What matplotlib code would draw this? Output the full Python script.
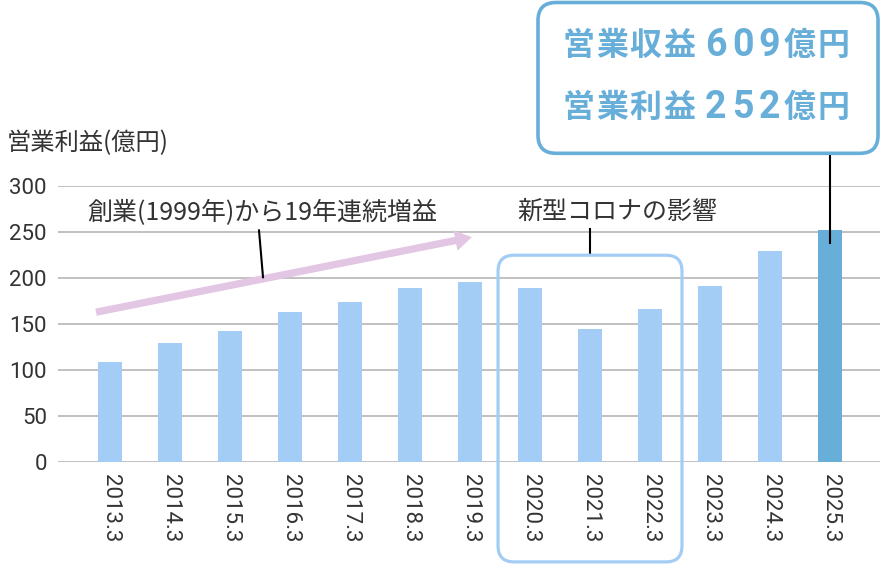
import matplotlib.pyplot as plt
from matplotlib.patches import FancyBboxPatch
from matplotlib.transforms import IdentityTransform

# ====== DATA ======
years = ["2013.3", "2014.3", "2015.3", "2016.3", "2017.3", "2018.3", "2019.3",
         "2020.3", "2021.3", "2022.3", "2023.3", "2024.3", "2025.3"]
profit = [109, 130, 143, 163, 174, 189, 196, 189, 145, 167, 191, 230, 252]
highlight = "2025.3"
yticks = [0, 50, 100, 150, 200, 250, 300]
ylabel = "営業利益(億円)"
growth_note = "創業(1999年)から19年連続増益"
covid_note = "新型コロナの影響"
covid_years = ["2020.3", "2022.3"]
callout_lines = ["営業収益609億円", "営業利益252億円"]
# ==================

LIGHT = "#a3cdf5"
DARK = "#67aed9"
TEXT = "#333333"
GRID = "#b0b0b0"
PINK = "#e2c6e4"
JP = "Noto Sans CJK JP"

W, H = 880, 564
fig = plt.figure(figsize=(W / 100, H / 100), dpi=100)
ax = fig.add_axes([58 / W, 1 - 462 / H, 1 - 58 / W, (462 - 186.3) / H])

x = list(range(len(years)))
colors = [DARK if y == highlight else LIGHT for y in years]
ax.bar(x, profit, width=0.4, color=colors, zorder=2)

ax.set_xlim(-0.867, 12.833)
ax.set_ylim(0, 300)
ax.set_yticks(yticks)
ax.set_xticks(x)
ax.set_xticklabels(years, rotation=-90, family="Roboto", fontsize=16, color=TEXT)
for lab in ax.get_yticklabels():
    lab.set_family("Roboto")
    lab.set_fontsize(16)
    lab.set_color(TEXT)
ax.tick_params(length=0)
ax.tick_params(axis="y", pad=8)
ax.tick_params(axis="x", pad=9)
ax.grid(axis="y", color=GRID, lw=1.1, zorder=0)
for s in ax.spines.values():
    s.set_visible(False)

fig.text(7 / W, 1 - 143 / H, ylabel, family=JP, fontsize=17.5, color=TEXT,
         ha="left", va="center")

# growth arrow and note
ax.annotate("", xy=(6.03, 244.6), xytext=(-0.233, 163),
            arrowprops=dict(arrowstyle="simple,head_length=0.8,head_width=1.0,tail_width=0.35",
                            mutation_scale=15, color=PINK, shrinkA=0, shrinkB=0, lw=0),
            annotation_clip=False, zorder=3)
ax.plot([2.483, 2.55], [252, 201], color="black", lw=1.5, clip_on=False, zorder=4)
fig.text(87 / W, 1 - 213 / H, growth_note, family=JP, fontsize=18, color=TEXT,
         ha="left", va="center")

# covid box
i0, i1 = years.index(covid_years[0]), years.index(covid_years[1])
(bx0, by0) = ax.transData.transform((i0 - 0.533, -108.7))
(bx1, by1) = ax.transData.transform((i1 + 0.533, 225))
ax.add_artist(FancyBboxPatch((bx0, by0), bx1 - bx0, by1 - by0,
                             boxstyle="round,pad=0,rounding_size=16",
                             transform=IdentityTransform(), fill=False,
                             ec=LIGHT, lw=2.3, clip_on=False, zorder=5))
cx = (i0 + i1) / 2
ax.plot([cx, cx], [225, 253], color="black", lw=1.5, clip_on=False)
fig.text(517 / W, 1 - 212 / H, covid_note, family=JP, fontsize=18, color=TEXT,
         ha="left", va="center")

# callout box
(cx0, cy0) = ax.transData.transform((7.133, 335.9))
(cx1, cy1) = ax.transData.transform((12.8, 500))
ax.add_artist(FancyBboxPatch((cx0, cy0), cx1 - cx0, cy1 - cy0,
                             boxstyle="round,pad=0,rounding_size=18",
                             transform=IdentityTransform(), fill=False,
                             ec=DARK, lw=2.6, clip_on=False, zorder=5))
hi = years.index(highlight)
ax.plot([hi, hi], [238, 335.9], color="black", lw=1.5, clip_on=False, zorder=4)

# callout characters one by one (wide letter spacing)
for line, ypix in zip(callout_lines, [46, 108]):
    xpos = 562
    prev_digit = False
    for ch in line:
        dig = ch.isdigit()
        if dig and not prev_digit:
            xpos += 6
        w = 27 if dig else 33.5
        fam = "Roboto" if dig else JP
        fs = 27 if dig else 23
        fig.text((xpos + w / 2) / W, 1 - ypix / H, ch, family=fam, fontsize=fs,
                 fontweight="bold", color=DARK, ha="center", va="center")
        xpos += w
        prev_digit = dig

fig.savefig("out.png", dpi=100)
